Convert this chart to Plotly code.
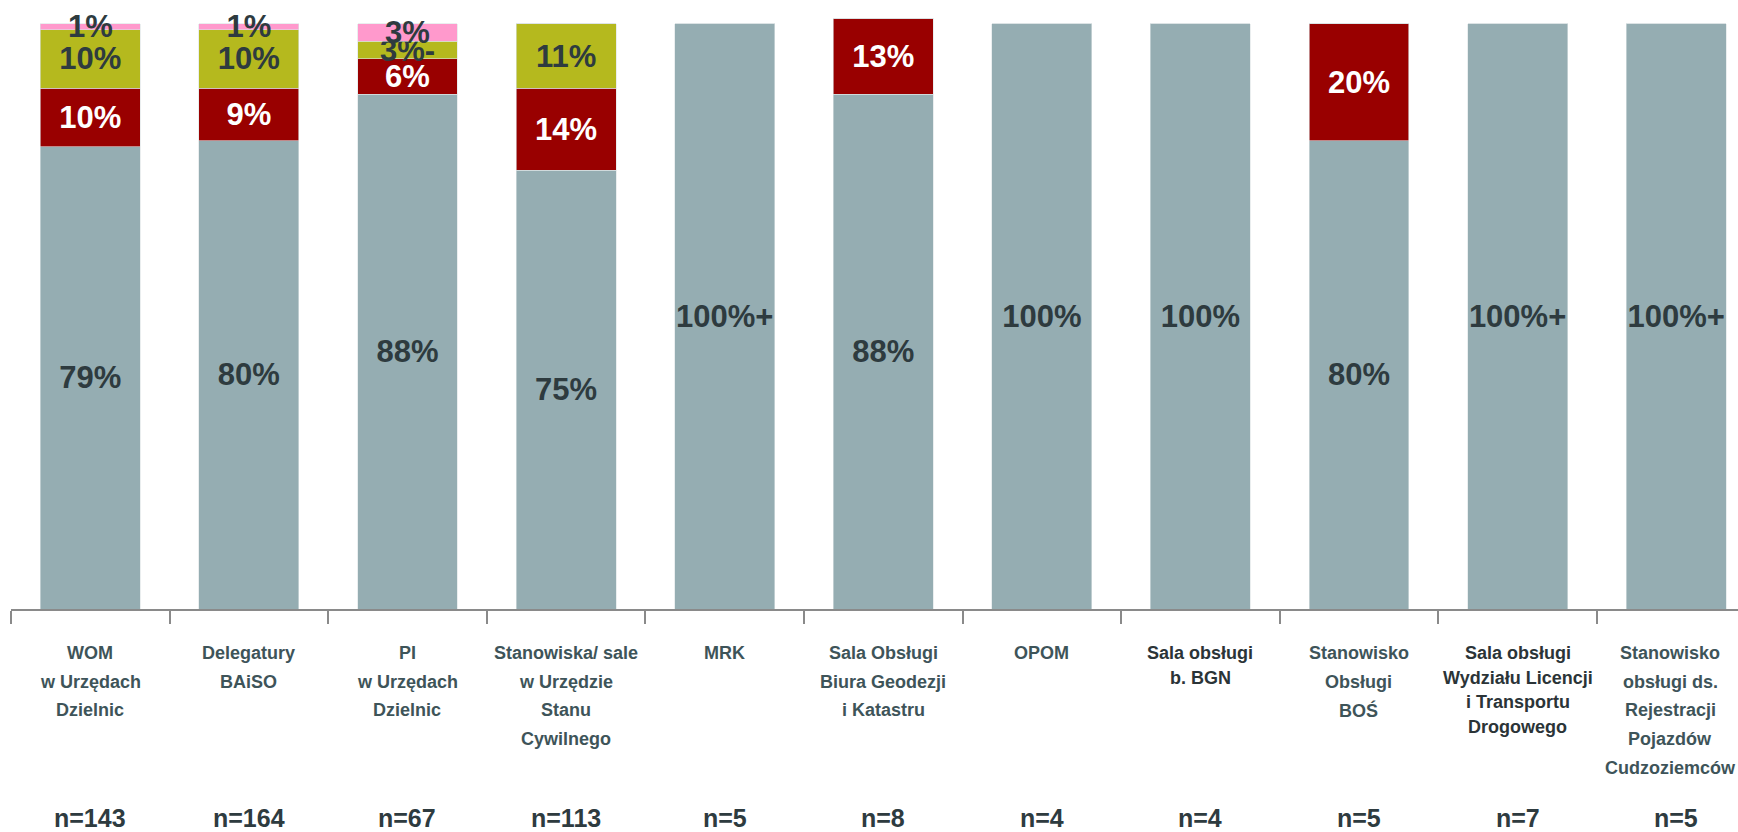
import plotly.graph_objects as go

# Service points and sample sizes
categories = [
    "WOM<br>w Urzędach<br>Dzielnic",
    "Delegatury<br>BAiSO",
    "PI<br>w Urzędach<br>Dzielnic",
    "Stanowiska/ sale<br>w Urzędzie<br>Stanu<br>Cywilnego",
    "MRK",
    "Sala Obsługi<br>Biura Geodezji<br>i Katastru",
    "OPOM",
    "Sala obsługi<br>b. BGN",
    "Stanowisko<br>Obsługi<br>BOŚ",
    "Sala obsługi<br>Wydziału Licencji<br>i Transportu<br>Drogowego",
    "Stanowisko<br>obsługi ds.<br>Rejestracji<br>Pojazdów<br>Cudzoziemców",
]
sample_sizes = [143, 164, 67, 113, 5, 8, 4, 4, 5, 7, 5]

# Share of answers per segment (%)
grey_vals = [79, 80, 88, 75, 100, 88, 100, 100, 80, 100, 100]
red_vals = [10, 9, 6, 14, 0, 13, 0, 0, 20, 0, 0]
olive_vals = [10, 10, 3, 11, 0, 0, 0, 0, 0, 0, 0]
pink_vals = [1, 1, 3, 0, 0, 0, 0, 0, 0, 0, 0]

# Extra marks printed after some values
grey_suffix = ["", "", "", "", "+", "", "", "", "", "+", "+"]
olive_suffix = ["", "", "-", "", "", "", "", "", "", "", ""]

FONT = "Liberation Sans, Arial, sans-serif"
DARK = "#2E3B3F"
VALUE_SIZE = 31

# Figure geometry (pixels)
W, H = 1738, 832
M_L, M_R, M_T, M_B = 11, 0, 18, 223
PLOT_BOTTOM = H - M_B
PLOT_H = H - M_T - M_B


def paper_y(py):
    """Convert a pixel row (from the top of the figure) to paper coordinates."""
    return (PLOT_BOTTOM - py) / PLOT_H


def labels(vals, suffix=None):
    suffix = suffix or [""] * len(vals)
    return [f"{v}%{s}" if v else "" for v, s in zip(vals, suffix)]


series = [
    (grey_vals, "#95ADB2", DARK, grey_suffix),
    (red_vals, "#990000", "#FFFFFF", None),
    (olive_vals, "#B5B91E", DARK, olive_suffix),
    (pink_vals, "#FF99CC", DARK, None),
]

fig = go.Figure()
for vals, color, tcolor, suf in series:
    fig.add_trace(go.Bar(
        x=categories, y=vals,
        marker=dict(color=color, line=dict(width=0.6, color="#DCE3E5")),
        text=labels(vals, suf),
        textposition="inside",
        insidetextanchor="middle",
        textangle=0,
        constraintext="none",
        cliponaxis=False,
        textfont=dict(family=FONT, size=VALUE_SIZE, color=tcolor, weight="bold"),
        width=0.63,
        hoverinfo="skip",
    ))

# Category captions under the axis, one annotation per line
TIGHT = {7, 9}
last = len(categories) - 1
for i, cat in enumerate(categories):
    step = 24.5 if i in TIGHT else 28.7
    color = "#2B3437" if i in TIGHT else "#3E5459"
    for k, line in enumerate(cat.split("<br>")):
        fig.add_annotation(
            x=i, y=paper_y(653 + k * step), xref="x", yref="paper",
            text=line, showarrow=False,
            yanchor="middle", xanchor="center", borderpad=0,
            xshift=-6 if i == last else 0,
            font=dict(family=FONT, size=18, color=color, weight="bold"),
        )

for i, n in enumerate(sample_sizes):
    fig.add_annotation(
        x=i, y=paper_y(818), xref="x", yref="paper",
        text=f"n={n}", showarrow=False,
        yanchor="middle", xanchor="center", borderpad=0,
        font=dict(family=FONT, size=25, color=DARK, weight="bold"),
    )

fig.update_layout(
    barmode="stack",
    width=W, height=H,
    margin=dict(l=M_L, r=M_R, t=M_T, b=M_B),
    paper_bgcolor="white", plot_bgcolor="white",
    showlegend=False,
    uniformtext=dict(minsize=VALUE_SIZE, mode="show"),
    xaxis=dict(
        type="category",
        range=[-0.5, 10.39],
        tickson="boundaries", ticks="outside", ticklen=13,
        tickcolor="#8A8A8A", tickwidth=1.5,
        showline=True, linecolor="#8A8A8A", linewidth=1.5,
        showgrid=False, zeroline=False,
        showticklabels=False,
    ),
    yaxis=dict(range=[0, 101], visible=False, showgrid=False, zeroline=False),
)

fig.write_html("out.html")
